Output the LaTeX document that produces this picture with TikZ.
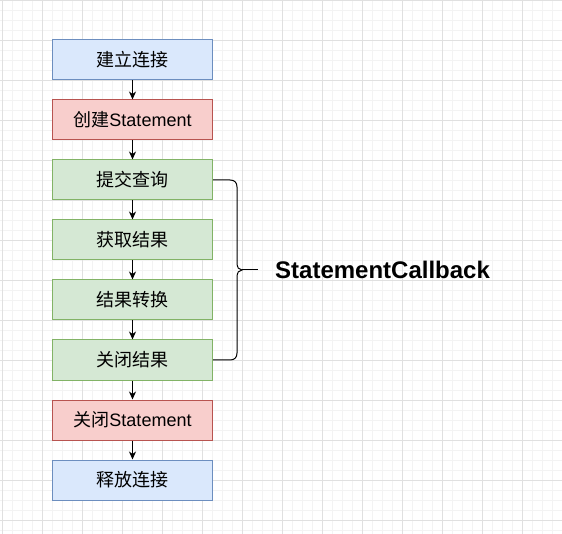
\documentclass[tikz,border=0pt]{standalone}
\usepackage{fontspec}
\setmainfont{Liberation Sans}
\newfontfamily\cjk{Noto Sans CJK SC}
\usetikzlibrary{arrows.meta}
\definecolor{bluef}{HTML}{DAE8FC}
\definecolor{blued}{HTML}{6C8EBF}
\definecolor{redf}{HTML}{F8CECC}
\definecolor{redd}{HTML}{B85450}
\definecolor{greenf}{HTML}{D5E8D4}
\definecolor{greend}{HTML}{82B366}
\definecolor{gridmaj}{HTML}{E0E0E0}
\definecolor{gridmin}{HTML}{F3F3F3}
\tikzset{
  box/.style={rectangle, minimum width=160pt, minimum height=40pt, inner sep=0pt, line width=1pt,
    font=\fontsize{18}{20}\selectfont},
  bluebox/.style={box, fill=bluef, draw=blued},
  redbox/.style={box, fill=redf, draw=redd},
  greenbox/.style={box, fill=greenf, draw=greend},
  conn/.style={line width=1pt, -{Stealth[length=8pt,width=7pt,inset=2.5pt]}},
  minorline/.style={gridmin, line width=0.8pt},
  majorline/.style={gridmaj, line width=0.8pt},
}
\begin{document}
\begin{tikzpicture}[x=1pt,y=-1pt]
\useasboundingbox (0,0) rectangle (562,534);
\fill[white] (0,0) rectangle (562,534);
\foreach \i in {0,...,56} \draw[minorline] (2+10*\i,0) -- (2+10*\i,534);
\foreach \j in {0,...,53} \draw[minorline] (0,10*\j) -- (562,10*\j);
\foreach \i in {0,...,14} \draw[majorline] (2+40*\i,0) -- (2+40*\i,534);
\foreach \j in {0,...,13} \draw[majorline] (0,40*\j) -- (562,40*\j);

\node[bluebox]  (n1) at (132.5,60)  {\cjk 建立连接};
\node[redbox]   (n2) at (132.5,120) {{\cjk 创建}Statement};
\node[greenbox] (n3) at (132.5,180) {\cjk 提交查询};
\node[greenbox] (n4) at (132.5,240) {\cjk 获取结果};
\node[greenbox] (n5) at (132.5,300) {\cjk 结果转换};
\node[greenbox] (n6) at (132.5,360) {\cjk 关闭结果};
\node[redbox]   (n7) at (132.5,420) {{\cjk 关闭}Statement};
\node[bluebox]  (n8) at (132.5,480) {\cjk 释放连接};

\foreach \a/\b in {n1/n2,n2/n3,n3/n4,n4/n5,n5/n6,n6/n7,n7/n8}
  \draw[conn] (\a.south) -- (\b.north);

\coordinate (tip) at (258,270);
\draw[line width=1pt] (n3.east) -- (230,180) .. controls (234.5,180) and (237,182.5) .. (237,187)
  -- (237,263) .. controls (237,267.5) and (239,270) .. (242,270)
  .. controls (239,270) and (237,272.5) .. (237,277)
  -- (237,353) .. controls (237,357.5) and (234.5,360) .. (230,360) -- (n6.east);
\draw[line width=1pt] (242,270) -- (tip);
\node[anchor=west, inner sep=0pt, font=\fontsize{24}{26}\selectfont\bfseries] (lbl) at (275,270) {StatementCallback};
\end{tikzpicture}
\end{document}
